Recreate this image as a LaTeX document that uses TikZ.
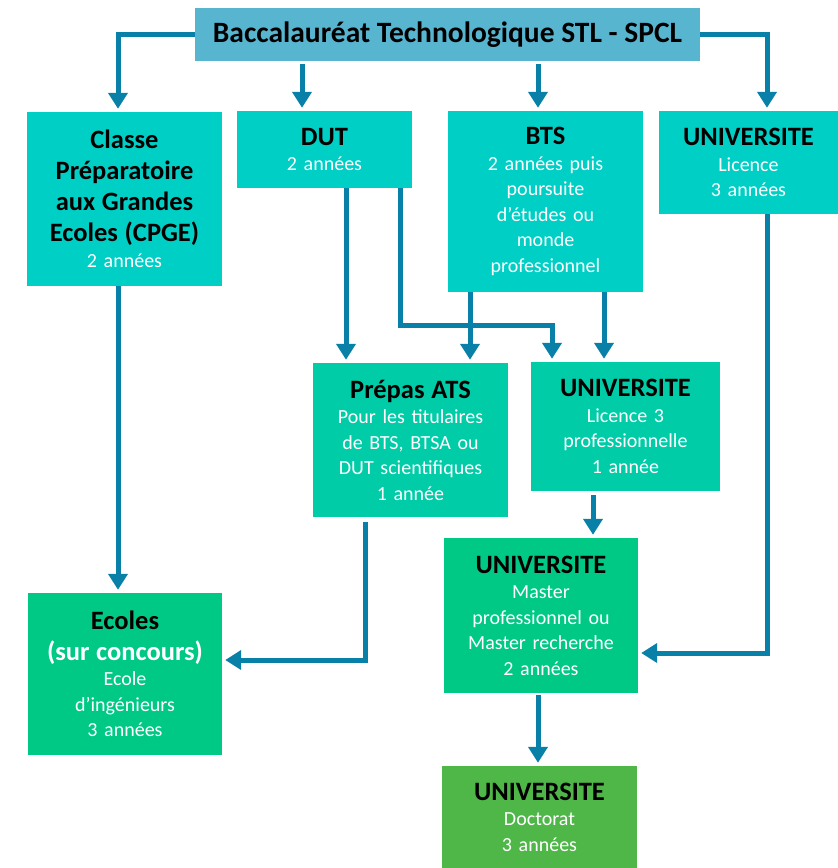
\documentclass[tikz,border=0pt]{standalone}
\usepackage{fontspec}
\setmainfont{Carlito}
\usetikzlibrary{calc,positioning,arrows.meta}
\definecolor{bacbleu}{RGB}{88,181,208}
\definecolor{turquoise}{RGB}{0,207,198}
\definecolor{vertdeau}{RGB}{0,204,168}
\definecolor{vertmenthe}{RGB}{0,201,134}
\definecolor{vertdoc}{RGB}{79,182,72}
\definecolor{flechebleu}{RGB}{8,128,168}
\newcommand{\titre}[1]{{\fontsize{26.5}{31}\selectfont\bfseries\color{black}#1\par}}
\tikzset{
>={Triangle[length=16pt,width=19pt]},
  boite/.style={
    rectangle,
    inner sep=0pt,
    % draw=black,
    text=white,
    align=center,
    font=\fontsize{20}{25.5}\selectfont},
  fleche/.style={draw=flechebleu, line width=5pt, ->, shorten >=3pt}
}
\begin{document}
\begin{tikzpicture}[x=1pt,y=-1pt]
  \useasboundingbox (0,0) rectangle (838,868);

  \node[boite, fill=bacbleu, text=black, text width=505pt, minimum height=53pt] (bac) at (447.5,34.5)
    {{\fontsize{29.5}{34}\selectfont\bfseries Baccalauréat Technologique STL - SPCL\par}};

  \node[boite, fill=turquoise, text width=195pt, minimum height=174pt] (cpge) at (124.5,199)
    {\titre{Classe\\Préparatoire\\aux Grandes\\Ecoles (CPGE)}2 années};
  \node[boite, fill=turquoise, text width=175pt, minimum height=77pt] (dut) at (324.5,149.5)
    {\titre{DUT}2 années};
  \node[boite, fill=turquoise, text width=195pt, minimum height=181pt] (bts) at (545.5,201.5)
    {\titre{BTS}2 années puis\\poursuite\\d’études ou\\monde\\professionnel};
  \node[boite, fill=turquoise, text width=179pt, minimum height=103pt] (lic) at (748.5,162.5)
    {\titre{UNIVERSITE}Licence\\3 années};

  \node[boite, fill=vertdeau, text width=195pt, minimum height=154pt] (ats) at (410.5,440)
    {\titre{Prépas ATS}Pour les titulaires\\de BTS, BTSA ou\\DUT scientifiques\\1 année};
  \node[boite, fill=vertdeau, text width=189pt, minimum height=129pt] (lp) at (625.5,426.5)
    {\titre{UNIVERSITE}Licence 3\\professionnelle\\1 année};

  \node[boite, fill=vertmenthe, text width=194pt, minimum height=155pt] (master) at (541,615.5)
    {\titre{UNIVERSITE}Master\\professionnel ou\\Master recherche\\2 années};
  \node[boite, fill=vertmenthe, text width=194pt, minimum height=162pt] (ecoles) at (125,674)
    {\titre{Ecoles\\\textcolor{white}{(sur concours)}}Ecole\\d’ingénieurs\\3 années};

  \node[boite, fill=vertdoc, text width=195pt, minimum height=102pt] (doct) at (539.5,817)
    {\titre{UNIVERSITE}Doctorat\\3 années};

  \draw[fleche] (bac.west) -| ($(cpge.north)+(-6.5,0)$);
  \draw[fleche] (bac.east) -| ($(lic.north)+(18.5,0)$);
  \draw[fleche] ($(bac.south -| dut.north)+(-22.5,3)$) -- ($(dut.north)+(-22.5,0)$);
  \draw[fleche] ($(bac.south -| bts.north)+(-7.5,3)$) -- ($(bts.north)+(-7.5,0)$);

  \draw[fleche] ($(cpge.south)+(-6.5,0)$) -- ($(cpge.south |- ecoles.north)+(-6.5,0)$);
  \draw[fleche] ($(dut.south)+(21.5,0)$) -- ($(dut.south |- ats.north)+(21.5,0)$);
  \draw[fleche] ($(dut.south)+(75.5,0)$) -- ++(0,137) -| ($(lp.north)+(-73.5,0)$);
  \draw[fleche] ($(bts.south)+(-75.5,0)$) -- ($(bts.south |- ats.north)+(-75.5,0)$);
  \draw[fleche] ($(bts.south)+(58.5,0)$) -- ($(bts.south |- lp.north)+(58.5,0)$);
  \draw[fleche] ($(lic.south)+(18.5,0)$) |- ($(master.east)+(0,37.5)$);

  \draw[fleche] ($(lp.south)+(-32.5,4)$) -- ($(lp.south |- master.north)+(-32.5,0)$);
  \draw[fleche] ($(ats.south)+(-45.5,5)$) |- ($(ecoles.east)+(0,-14)$);
  \draw[fleche] ($(master.south)+(-3,2)$) -- ($(master.south |- doct.north)+(-3,0)$);
\end{tikzpicture}
\end{document}
